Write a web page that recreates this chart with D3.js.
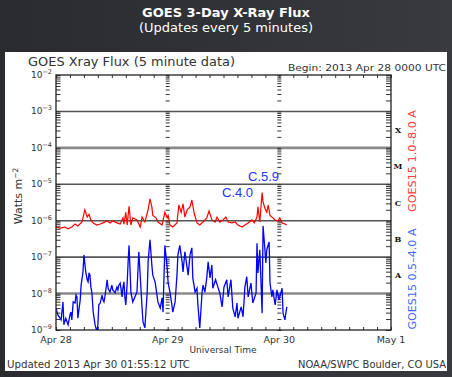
<!DOCTYPE html>
<html>
<head>
<meta charset="utf-8">
<script src="https://cdn.jsdelivr.net/npm/d3@7"></script>
<style>
    html, body { margin: 0; padding: 0; background: #2e3034; }
    svg { display: block; }
</style>
</head>
<body>
<svg id="chart" width="452" height="377"></svg>
<script>
// Hours since 2013 Apr 28 0000 UTC, GOES15 long channel (1.0-8.0 A), W/m^2
var longHours = [0.0, 0.9, 1.9, 2.6, 3.4, 4.1, 4.7, 5.6, 5.8, 6.2, 6.7, 7.1, 7.5, 8.0, 8.8, 9.5, 10.1, 11.0, 11.6, 12.2,
    13.1, 13.8, 14.4, 14.6, 15.0, 15.3, 15.7, 16.1, 16.5, 17.4, 18.1, 18.5, 19.1, 19.8, 20.2, 20.6, 20.8, 21.5, 21.9, 22.8,
    23.4, 23.9, 24.1, 24.5, 25.1, 26.0, 26.4, 26.9, 27.3, 27.7, 28.2, 28.8, 29.2, 29.7, 30.3, 30.9, 31.6, 32.4, 32.9, 33.5,
    34.2, 34.6, 35.2, 35.9, 36.5, 37.0, 37.8, 38.5, 39.1, 40.0, 40.6, 41.3, 42.1, 42.6, 43.2, 43.4, 43.8, 44.3, 44.5, 44.9,
    45.3, 45.6, 46.0, 46.6, 47.1, 47.7, 48.1, 48.6, 49.2, 49.6];
var longFlux = [6.7e-7, 6.3e-7, 6.7e-7, 6.0e-7, 6.7e-7, 8.1e-7, 7.2e-7, 9.2e-7, 1.2e-6, 2.0e-6, 1.26e-6, 1.5e-6, 1.05e-6, 8.7e-7, 7.6e-7, 8.1e-7, 8.7e-7, 9.8e-7, 8.7e-7, 9.8e-7,
    8.7e-7, 8.1e-7, 1.2e-6, 8.1e-7, 1.7e-6, 7.6e-7, 2.5e-6, 7.6e-7, 1.2e-6, 1.05e-6, 6.7e-7, 1.26e-6, 9.2e-7, 2.0e-6, 4.0e-6, 2.4e-6, 1.4e-6, 1.2e-6, 9.2e-7, 7.6e-7,
    1.7e-6, 1.2e-6, 1.4e-6, 7.6e-7, 6.7e-7, 8.7e-7, 2.7e-6, 1.7e-6, 2.9e-6, 1.26e-6, 2.0e-6, 2.4e-6, 3.7e-6, 1.6e-6, 8.7e-7, 7.6e-7, 9.2e-7, 1.2e-6, 1.85e-6, 1.05e-6,
    9.2e-7, 1.26e-6, 9.2e-7, 1.05e-6, 1.26e-6, 9.2e-7, 8.7e-7, 9.2e-7, 7.6e-7, 6.7e-7, 7.6e-7, 8.7e-7, 1.05e-6, 8.7e-7, 1.26e-6, 2.4e-6, 9.2e-7, 5.9e-6, 3.3e-6, 2.2e-6,
    1.7e-6, 2.7e-6, 1.4e-6, 1.2e-6, 1.05e-6, 9.8e-7, 1.2e-6, 8.7e-7, 8.1e-7, 7.6e-7];

// GOES15 short channel (0.5-4.0 A)
var shortHours = [0.0, 0.4, 0.9, 1.1, 1.5, 1.7, 2.1, 2.6, 3.0, 3.2, 3.4, 3.7, 4.1, 4.3, 4.5, 4.7, 5.2, 5.4, 5.8, 6.0,
    6.4, 6.7, 6.9, 7.1, 7.3, 7.5, 7.7, 8.0, 8.4, 8.8, 9.0, 9.2, 9.5, 9.9, 10.1, 10.3, 10.5, 11.0, 11.2, 11.6,
    12.0, 12.2, 12.7, 13.1, 13.3, 13.5, 13.8, 14.2, 14.4, 14.6, 14.8, 15.0, 15.3, 15.5, 15.7, 16.1, 16.5, 17.4, 17.8, 18.5,
    18.7, 19.1, 19.6, 19.8, 20.2, 20.6, 20.8, 21.3, 21.7, 21.9, 22.4, 22.8, 23.0, 23.4, 23.9, 24.1, 24.5, 24.9, 25.1, 25.6,
    26.0, 26.2, 26.6, 27.1, 27.3, 27.7, 28.2, 28.4, 28.8, 29.2, 29.4, 29.9, 30.3, 30.5, 30.9, 31.4, 31.6, 32.0, 32.4, 32.7,
    33.1, 33.5, 33.7, 34.3, 34.8, 35.2, 35.7, 36.1, 36.7, 37.0, 37.6, 38.0, 38.5, 38.9, 39.1, 39.8, 40.2, 40.6, 41.0, 41.3,
    41.9, 42.3, 43.0, 43.2, 43.4, 43.8, 44.3, 44.5, 44.9, 45.1, 45.3, 45.8, 46.0, 46.4, 46.6, 47.1, 47.5, 47.9, 48.6, 48.8,
    49.2, 49.6];
var shortFlux = [4.0e-9, 2.6e-9, 2.1e-9, 1.9e-9, 5.9e-9, 1.4e-9, 2.1e-9, 1.4e-9, 2.6e-9, 3.1e-9, 1.9e-9, 5.9e-9, 5.5e-9, 9.1e-9, 8.1e-9, 2.1e-9, 6.7e-9, 1.7e-8, 3.9e-8, 1.15e-7,
    3.9e-8, 2.4e-8, 2.1e-8, 3.7e-8, 3.2e-8, 1.5e-8, 1.1e-8, 3.1e-9, 1.38e-9, 9.0e-10, 1.38e-9, 4.9e-9, 5.5e-9, 9.1e-9, 6.7e-9, 5.9e-9, 8.1e-9, 2.4e-8, 1.4e-8, 1.1e-8,
    1.7e-8, 1.26e-8, 1.04e-8, 1.5e-8, 1.26e-8, 1.7e-8, 1.95e-8, 8.1e-9, 1.5e-8, 2.1e-8, 8.1e-9, 4.9e-9, 1.95e-8, 7.4e-8, 2.1e-7, 1.1e-8, 5.9e-9, 1.1e-8, 1.4e-7, 4.0e-9,
    1.66e-9, 1.14e-9, 1.1e-8, 7.4e-8, 3.0e-7, 6.1e-8, 3.2e-8, 2.1e-8, 9.1e-9, 5.9e-9, 4.0e-9, 7.6e-9, 3.1e-9, 2.1e-7, 5.0e-8, 1.95e-8, 1.1e-8, 4.9e-9, 3.1e-9, 5.9e-9,
    3.2e-8, 1.15e-7, 2.1e-7, 7.4e-8, 3.9e-8, 1.4e-7, 5.0e-8, 3.2e-8, 1.15e-7, 1.8e-7, 2.7e-8, 1.1e-8, 1.4e-8, 4.9e-9, 1.14e-9, 1.1e-8, 1.7e-8, 1.1e-8, 2.7e-8, 7.4e-8,
    2.7e-8, 6.1e-8, 1.4e-8, 2.4e-8, 1.5e-8, 1.04e-8, 4.3e-9, 1.5e-8, 2.4e-8, 8.1e-9, 2.4e-8, 4.0e-9, 2.3e-9, 5.5e-9, 2.1e-9, 4.3e-9, 2.3e-9, 1.5e-8, 2.9e-8, 8.1e-9,
    1.95e-8, 5.5e-9, 1.04e-8, 2.4e-7, 3.7e-8, 1.6e-7, 2.9e-9, 7.2e-7, 1.6e-7, 6.9e-8, 1.6e-7, 2.6e-7, 1.95e-8, 8.1e-9, 1.26e-8, 4.9e-9, 1.26e-8, 6.7e-9, 1.4e-8, 2.9e-9,
    1.9e-9, 4.3e-9];

var dayLabels = ["Apr 28", "Apr 29", "Apr 30", "May 1"];
var decadeExps = [-2, -3, -4, -5, -6, -7, -8, -9];
var classLetters = ["X", "M", "C", "B", "A"];
var flareNotes = ["C.5.9", "C.4.0"];

var svg = d3.select("#chart");
var W = 452, H = 377;

// Background
var defs = svg.append("defs");
var grad = defs.append("linearGradient").attr("id", "bg").attr("x1", 0).attr("x2", 1);
grad.append("stop").attr("offset", 0).attr("stop-color", "#2a2b2f");
grad.append("stop").attr("offset", 1).attr("stop-color", "#393a3f");
svg.append("rect").attr("width", W).attr("height", H).attr("fill", "url(#bg)");

svg.append("text").attr("x", 226).attr("y", 17).attr("text-anchor", "middle")
    .style("font", "bold 13px 'DejaVu Sans'").attr("fill", "#fff").text("GOES 3-Day X-Ray Flux");
svg.append("text").attr("x", 226).attr("y", 32).attr("text-anchor", "middle")
    .style("font", "13px 'DejaVu Sans'").attr("fill", "#fff").text("(Updates every 5 minutes)");

// White panel
svg.append("rect").attr("x", 5).attr("y", 52).attr("width", 442).attr("height", 319).attr("fill", "#fff");

// Scales
var x = d3.scaleLinear().domain([0, 72]).range([56, 391]);
var y = d3.scaleLog().domain([1e-9, 1e-2]).range([330, 75]);

var ink = "#333";

// minor log ticks
var minorVals = [];
for (var e = -9; e <= -3; e++) {
    for (var m = 1; m <= 9; m++) minorVals.push(m * Math.pow(10, e));
}
minorVals.push(1e-2);

// Gridlines at decades
decadeExps.slice(1, 7).forEach(function(ex) {
    var light = (ex === -4 || ex === -8);
    svg.append("line")
        .attr("x1", x(0)).attr("x2", x(72))
        .attr("y1", y(Math.pow(10, ex))).attr("y2", y(Math.pow(10, ex)))
        .attr("stroke", light ? "#8a8a8a" : "#555")
        .attr("stroke-width", light ? 2.6 : 1.6);
});

function styleAxis(g) {
    g.select(".domain").remove();
    g.selectAll(".tick line").attr("stroke", ink).attr("stroke-width", 1);
    g.selectAll(".tick text").remove();
}

// Left / right / day-column log ticks
svg.append("g").attr("transform", "translate(" + x(0) + ",0)")
    .call(d3.axisLeft(y).tickValues(minorVals).tickSize(-4.5).tickFormat("")).call(styleAxis);
svg.append("g").attr("transform", "translate(" + x(72) + ",0)")
    .call(d3.axisRight(y).tickValues(minorVals).tickSize(-5).tickFormat("")).call(styleAxis);
[24, 48].forEach(function(h) {
    svg.append("g").attr("transform", "translate(" + (x(h) + 2) + ",0)")
        .call(d3.axisLeft(y).tickValues(minorVals).tickSize(4).tickFormat("")).call(styleAxis);
});

// Time ticks every 3 hours
svg.append("g").attr("transform", "translate(0," + y(1e-2) + ")")
    .call(d3.axisTop(x).tickValues(d3.range(0, 73, 3)).tickSize(-3).tickFormat("")).call(styleAxis);
svg.append("g").attr("transform", "translate(0," + y(1e-9) + ")")
    .call(d3.axisBottom(x).tickValues(d3.range(0, 73, 3)).tickSize(-3).tickFormat("")).call(styleAxis);

// Data
defs.append("clipPath").attr("id", "plotClip").append("rect")
    .attr("x", x(0)).attr("y", y(1e-2)).attr("width", x(72) - x(0)).attr("height", y(1e-9) - y(1e-2));

var line = d3.line().x(function(d) { return x(d[0]); }).y(function(d) { return y(d[1]); });
var plot = svg.append("g").attr("clip-path", "url(#plotClip)");
plot.append("path").datum(d3.zip(shortHours, shortFlux))
    .attr("d", line).attr("fill", "none").attr("stroke", "#0000ff").attr("stroke-width", 1.3);
plot.append("path").datum(d3.zip(longHours, longFlux))
    .attr("d", line).attr("fill", "none").attr("stroke", "#ff0000").attr("stroke-width", 1.2);

// Frame
svg.append("rect").attr("x", x(0)).attr("y", y(1e-2))
    .attr("width", x(72) - x(0)).attr("height", y(1e-9) - y(1e-2))
    .attr("fill", "none").attr("stroke", "#222").attr("stroke-width", 1.3);

// Y tick labels 10^n
decadeExps.forEach(function(ex) {
    var t = svg.append("text").attr("x", 52).attr("y", y(Math.pow(10, ex)) + 3)
        .attr("text-anchor", "end").attr("fill", ink).style("font", "9px 'DejaVu Sans'");
    t.append("tspan").text("10");
    t.append("tspan").attr("dy", -4).style("font-size", "6.5px").text(String(ex).replace("-", "\u2212"));
});

// X day labels
dayLabels.forEach(function(lab, i) {
    svg.append("text").attr("x", x(i * 24)).attr("y", 343).attr("text-anchor", "middle")
        .attr("fill", ink).style("font", "9.5px 'DejaVu Sans'").text(lab);
});

svg.append("text").attr("x", 223).attr("y", 353).attr("text-anchor", "middle")
    .attr("fill", ink).style("font", "9px 'DejaVu Sans'").text("Universal Time");

// Class letters at half decades
classLetters.forEach(function(c, i) {
    svg.append("text").attr("x", 398).attr("y", y(Math.pow(10, -3.5 - i)) + 3)
        .attr("text-anchor", "middle").attr("fill", "#111")
        .style("font", "bold 8px 'DejaVu Serif'").text(c);
});

// Titles
svg.append("text").attr("x", 28).attr("y", 66).attr("fill", ink)
    .attr("textLength", 207).attr("lengthAdjust", "spacingAndGlyphs")
    .style("font", "11.5px 'DejaVu Sans'").text("GOES Xray Flux (5 minute data)");
svg.append("text").attr("x", 288).attr("y", 71).attr("fill", ink)
    .attr("textLength", 158).attr("lengthAdjust", "spacingAndGlyphs")
    .style("font", "9.5px 'DejaVu Sans'").text("Begin:  2013 Apr 28 0000 UTC");

// Y axis title
var yt = svg.append("text").attr("transform", "translate(22,196) rotate(-90)")
    .attr("text-anchor", "middle").attr("fill", ink).style("font", "11px 'DejaVu Sans'");
yt.append("tspan").text("Watts m");
yt.append("tspan").attr("dy", -4).style("font-size", "7.5px").text("\u22122");

// Channel labels
svg.append("text").attr("transform", "translate(416,161) rotate(-90)")
    .attr("text-anchor", "middle").attr("fill", "#ff3b3b")
    .attr("textLength", 102).attr("lengthAdjust", "spacingAndGlyphs")
    .style("font", "11px 'DejaVu Sans'").text("GOES15 1.0\u20138.0 A");
svg.append("text").attr("transform", "translate(416,279) rotate(-90)")
    .attr("text-anchor", "middle").attr("fill", "#4466ff")
    .attr("textLength", 101).attr("lengthAdjust", "spacingAndGlyphs")
    .style("font", "11px 'DejaVu Sans'").text("GOES15 0.5\u20134.0 A");

// Flare notes
svg.append("text").attr("x", 248).attr("y", 181).attr("fill", "#2233ff")
    .style("font", "13px 'Liberation Sans'").text(flareNotes[0]);
svg.append("text").attr("x", 222).attr("y", 197).attr("fill", "#2233ff")
    .style("font", "13px 'Liberation Sans'").text(flareNotes[1]);

// Footer
svg.append("text").attr("x", 7).attr("y", 368).attr("fill", ink)
    .attr("textLength", 183).attr("lengthAdjust", "spacingAndGlyphs")
    .style("font", "10px 'DejaVu Sans'").text("Updated 2013 Apr 30 01:55:12 UTC");
svg.append("text").attr("x", 446).attr("y", 368).attr("fill", ink).attr("text-anchor", "end")
    .attr("textLength", 148).attr("lengthAdjust", "spacingAndGlyphs")
    .style("font", "10px 'DejaVu Sans'").text("NOAA/SWPC Boulder, CO USA");
</script>
</body>
</html>
